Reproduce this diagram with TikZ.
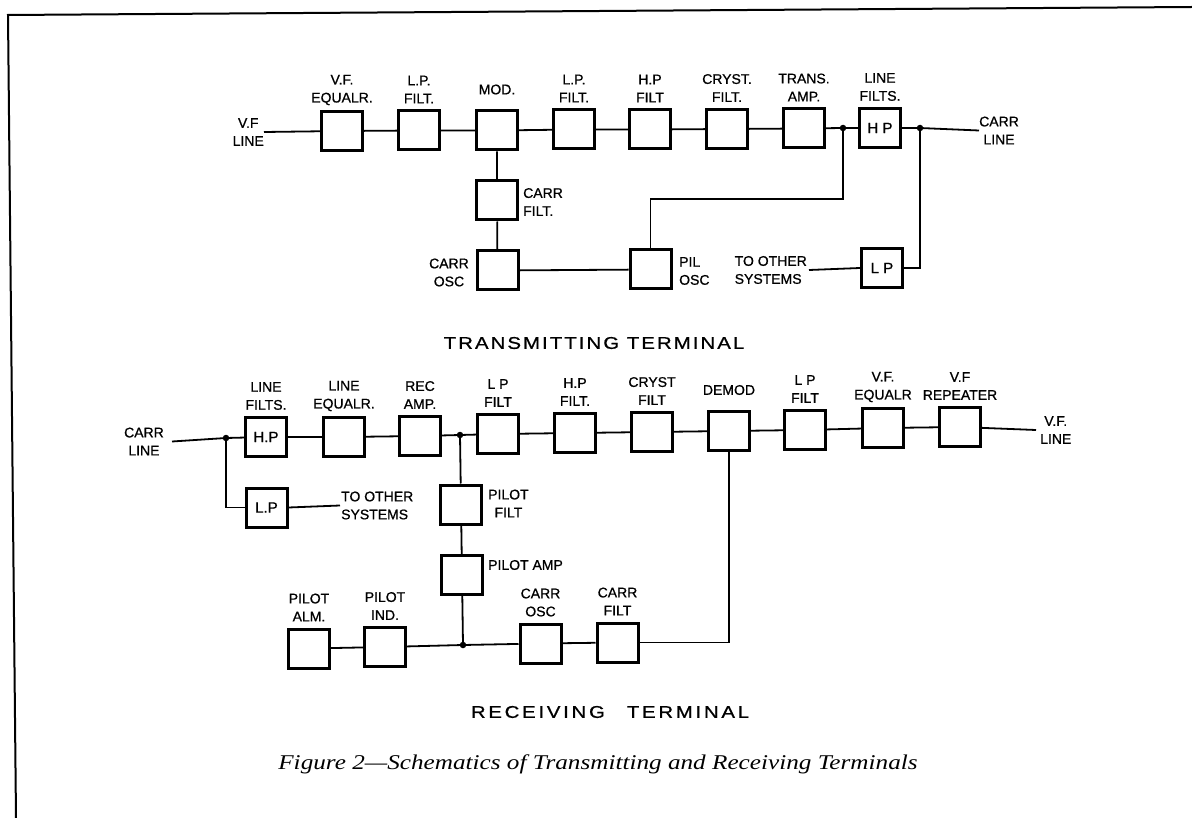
\documentclass[tikz,border=0pt]{standalone}
\usepackage{fontspec}
\setmainfont{Liberation Serif}
\newfontfamily\lblfont[FakeBold=0.8]{Liberation Sans}
\newfontfamily\titlefont[FakeStretch=1.2,LetterSpace=12,FakeBold=0.8]{Liberation Sans}
\newfontfamily\capfont[FakeStretch=1.2]{Liberation Serif}
\usetikzlibrary{calc}
\begin{document}
\begin{tikzpicture}[x=1pt,y=-1pt,
  blk/.style={draw, line width=3pt, minimum width=41pt, minimum height=39pt, inner sep=0pt,
    font=\lblfont\fontsize{15}{18}\selectfont},
  lbl/.style={font=\lblfont\fontsize{14}{18}\selectfont, align=center, inner sep=0pt},
  lbll/.style={lbl, align=left},
  wire/.style={line width=1.8pt},
  jdot/.style={circle, fill, inner sep=0pt, minimum size=6.5pt},
  ttl/.style={font=\titlefont\fontsize{17}{20}\selectfont, inner sep=0pt},
]
\useasboundingbox (0,0) rectangle (1192,818);
% page frame
\coordinate (fBL) at (16,818);
\coordinate (fTL) at (8,15);
\coordinate (fTR) at (1192,7);
\draw[line width=2pt] (fBL) -- (fTL) -- (fTR);

% ===================== TRANSMITTING =====================
\node[blk] (tVFEq)  at (342,131) {};
\node[blk] (tLP1)   at (419,130.5) {};
\node[blk] (tMod)   at (497,130.5) {};
\node[blk] (tLP2)   at (574,129.5) {};
\node[blk] (tHP)    at (650,129.5) {};
\node[blk] (tCryst) at (727,129) {};
\node[blk] (tTrans) at (804,128.5) {};
\node[blk] (tLineHP) at (880,128) {H P};
\node[blk] (tCarrFilt) at (497,200.5) {};
\node[blk] (tCarrOsc)  at (497.5,270.5) {};
\node[blk] (tPilOsc)   at (650.5,269.5) {};
\node[blk] (tLP)       at (882,268) {L P};
\node[jdot] (tJ1) at (843,128) {};
\node[jdot] (tJ2) at (920,128) {};
\coordinate (tC1) at (843,199);

\node[lbl] (tVFEqL)  at ([yshift=20pt]tVFEq.north) {V.F.\\EQUALR.};
\node[lbl] (tLP1L)   at ([yshift=20pt]tLP1.north) {L.P.\\FILT.};
\node[lbl] (tModL)   at ([yshift=20pt]tMod.north) {MOD.};
\node[lbl] (tLP2L)   at ([yshift=20pt]tLP2.north) {L.P.\\FILT.};
\node[lbl] (tHPL)    at ([yshift=20pt]tHP.north) {H.P\\FILT};
\node[lbl] (tCrystL) at ([yshift=20pt]tCryst.north) {CRYST.\\FILT.};
\node[lbl] (tTransL) at ([yshift=20pt]tTrans.north) {TRANS.\\AMP.};
\node[lbl] (tLineHPL) at ([yshift=20pt]tLineHP.north) {LINE\\FILTS.};
\node[lbll, anchor=west] (tCarrFiltL) at (523,202) {CARR\\FILT.};
\node[lbl, anchor=east]  (tCarrOscL)  at (469,272.5) {CARR\\OSC};
\node[lbll, anchor=west] (tPilOscL)   at (679,271) {PIL\\OSC};
\node[lbll, anchor=east] (tOtherL)    at (807,270) {TO OTHER\\SYSTEMS};
\node[lbl, anchor=west]  (tCarrLineL) at (979,130.5) {CARR\\LINE};
\node[lbl, anchor=east]  (tVFLineL)   at (264,132) {V.F\\LINE};

\draw[wire] (tVFLineL.east) -- (tVFEq) -- (tLP1) -- (tMod) -- (tLP2) -- (tHP)
  -- (tCryst) -- (tTrans) -- (tJ1.center) -- (tLineHP) -- (tJ2.center) -- (tCarrLineL.west);
\draw[wire] (tMod) -- (tCarrFilt) -- (tCarrOsc);
\draw[wire] (tCarrOsc) -- (tPilOsc);
\draw[wire] (tPilOsc.north) |- (tC1) -- (tJ1.center);
\draw[wire] (tLP.east) -| (tJ2.center);
\draw[wire] ([xshift=2pt]tOtherL.east) -- (tLP.west);

\node[ttl] (tTitle) at (594,343) {TRANSMITTING TERMINAL};

% ===================== RECEIVING =====================
\node[jdot] (bJ3) at (226,438) {};
\node[blk] (bHP)     at (266,437) {H.P};
\node[blk] (bLineEq) at (344,437) {};
\node[blk] (bRecAmp) at (420,436) {};
\node[jdot] (bJ4) at (460,435) {};
\node[blk] (bLPF1)   at (498,434) {};
\node[blk] (bHPF)    at (575,433) {};
\node[blk] (bCryst)  at (652,432) {};
\node[blk] (bDemod)  at (729,431) {};
\node[blk] (bLPF2)   at (805,430) {};
\node[blk] (bVFEq)   at (883,428) {};
\node[blk] (bVFRep)  at (960,427) {};
\node[blk] (bLP)     at (266.5,507.5) {L.P};
\node[blk] (bPilotFilt) at (461,504.5) {};
\node[blk] (bPilotAmp)  at (462,575) {};
\node[jdot] (bJ5) at (463,645) {};
\node[blk] (bPilotAlm) at (309,648.5) {};
\node[blk] (bPilotInd) at (385,647) {};
\node[blk] (bCarrOsc)  at (540.5,643.5) {};
\node[blk] (bCarrFilt) at (617.5,642.5) {};

\node[lbl] (bHPL)     at ([yshift=20pt]bHP.north) {LINE\\FILTS.};
\node[lbl] (bLineEqL) at ([yshift=20pt]bLineEq.north) {LINE\\EQUALR.};
\node[lbl] (bRecAmpL) at ([yshift=20pt]bRecAmp.north) {REC\\AMP.};
\node[lbl] (bLPF1L)   at ([yshift=20pt]bLPF1.north) {L P\\FILT};
\node[lbl] (bHPFL)    at ([yshift=20pt]bHPF.north) {H.P\\FILT.};
\node[lbl] (bCrystL)  at ([yshift=20pt]bCryst.north) {CRYST\\FILT};
\node[lbl] (bDemodL)  at ([yshift=20pt]bDemod.north) {DEMOD};
\node[lbl] (bLPF2L)   at ([yshift=20pt]bLPF2.north) {L P\\FILT};
\node[lbl] (bVFEqL)   at ([yshift=20pt]bVFEq.north) {V.F.\\EQUALR};
\node[lbl] (bVFRepL)  at ([yshift=20pt]bVFRep.north) {V.F\\REPEATER};
\node[lbl] (bPilotAlmL) at ([yshift=20pt]bPilotAlm.north) {PILOT\\ALM.};
\node[lbl] (bPilotIndL) at ([yshift=20pt]bPilotInd.north) {PILOT\\IND.};
\node[lbl] (bCarrOscL)  at ([yshift=20pt]bCarrOsc.north) {CARR\\OSC};
\node[lbl] (bCarrFiltL) at ([yshift=20pt]bCarrFilt.north) {CARR\\FILT};
\node[lbl, anchor=east]  (bCarrLineL) at (164,441.5) {CARR\\LINE};
\node[lbll, anchor=west] (bOtherL)    at (341,505.5) {TO OTHER\\SYSTEMS};
\node[lbl, anchor=west]  (bPilotFiltL) at (488,503.5) {PILOT\\FILT};
\node[lbl, anchor=west]  (bPilotAmpL)  at (488,565) {PILOT AMP};
\node[lbl, anchor=west]  (bVFLineL)    at (1040,430) {V.F.\\LINE};

\draw[wire] ([xshift=8pt]bCarrLineL.east) -- (bJ3.center) -- (bHP) -- (bLineEq) -- (bRecAmp)
  -- (bJ4.center) -- (bLPF1) -- (bHPF) -- (bCryst) -- (bDemod) -- (bLPF2) -- (bVFEq)
  -- (bVFRep) -- ([xshift=-4pt]bVFLineL.west);
\draw[wire] (bJ3.center) |- (bLP.west);
\draw[wire] (bLP.east) -- ([xshift=-1pt]bOtherL.west);
\draw[wire] (bJ4.center) -- (bPilotFilt) -- (bPilotAmp) -- (bJ5.center);
\draw[wire] (bPilotAlm) -- (bPilotInd) -- (bJ5.center) -- (bCarrOsc) -- (bCarrFilt);
\draw[wire] (bCarrFilt.east) -| (bDemod.south);

\node[ttl] (bTitle) at (610,712) {\addfontfeature{LetterSpace=16}RECEIVING\hspace{22pt}TERMINAL};

\node[font=\capfont\itshape\fontsize{21}{24}\selectfont, inner sep=0pt] (caption) at (598,764)
  {Figure 2—Schematics of Transmitting and Receiving Terminals};
\end{tikzpicture}
\end{document}
